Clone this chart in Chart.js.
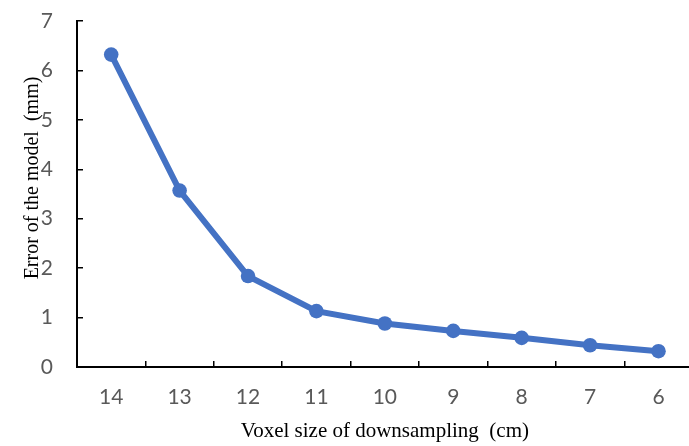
<!DOCTYPE html>
<html>
<head>
<meta charset="utf-8">
<script src="https://cdn.jsdelivr.net/npm/chart.js@4"></script>
<style>
html, body { margin: 0; padding: 0; background: #fff; overflow: hidden; width: 689px; height: 446px; }
#wrap { position: absolute; left: 0; top: 0; width: 700px; height: 446px; }
</style>
</head>
<body>
<div id="wrap"><canvas id="c" width="700" height="446"></canvas></div>
<script>
const categories = ['14', '13', '12', '11', '10', '9', '8', '7', '6'];
const errorValues = [6.32, 3.57, 1.84, 1.13, 0.88, 0.73, 0.59, 0.44, 0.32];
const yTicks = [0, 1, 2, 3, 4, 5, 6, 7];
const xTitle = 'Voxel size of downsampling  (cm)';
const yTitle = 'Error of the model  (mm)';

const titlePlugin = {
  id: 'axisTitles',
  afterDraw(chart) {
    const ctx = chart.ctx;
    const a = chart.chartArea;
    ctx.save();
    ctx.fillStyle = '#000';
    ctx.textAlign = 'center';
    ctx.textBaseline = 'alphabetic';
    ctx.font = '21px "Liberation Serif"';
    ctx.fillText(xTitle, (a.left + a.right) / 2, 436.5);
    ctx.translate(37.5, (a.top + a.bottom) / 2 - 16);
    ctx.rotate(-Math.PI / 2);
    ctx.font = '20px "Liberation Serif"';
    ctx.fillText(yTitle, 0, 0);
    ctx.restore();
  }
};

new Chart(document.getElementById('c'), {
  type: 'line',
  data: {
    labels: categories,
    datasets: [{
      data: errorValues,
      borderColor: '#4472C4',
      backgroundColor: '#4472C4',
      borderWidth: 6,
      pointRadius: 7.3,
      pointBorderWidth: 0,
      pointBackgroundColor: '#4472C4',
      tension: 0,
      fill: false
    }]
  },
  options: {
    responsive: false,
    animation: false,
    devicePixelRatio: 1,
    layout: { padding: { top: 21, right: 5, left: 0, bottom: 0 } },
    plugins: { legend: { display: false }, tooltip: { enabled: false } },
    scales: {
      x: {
        offset: true,
        grid: { offset: true, display: true, drawOnChartArea: false, drawTicks: true, tickLength: -6, color: '#000', lineWidth: 1.5 },
        border: { display: true, color: '#000', width: 2 },
        ticks: { color: '#595959', font: { family: 'Lato', size: 21 }, padding: 24, maxRotation: 0 },
        afterFit(s) { s.height = 79; s.paddingLeft = 0; s.paddingRight = 0; }
      },
      y: {
        min: 0, max: 7,
        afterBuildTicks(s) { s.ticks = yTicks.map(v => ({ value: v })); },
        grid: { display: true, drawOnChartArea: false, drawTicks: true, tickLength: -6, color: '#000', lineWidth: 1.5 },
        border: { display: true, color: '#000', width: 2 },
        ticks: { color: '#595959', font: { family: 'Lato', size: 21 }, padding: 30 },
        afterFit(s) { s.width = 77; s.paddingTop = 10; s.paddingBottom = 10; }
      }
    }
  },
  plugins: [titlePlugin]
});
</script>
</body>
</html>
